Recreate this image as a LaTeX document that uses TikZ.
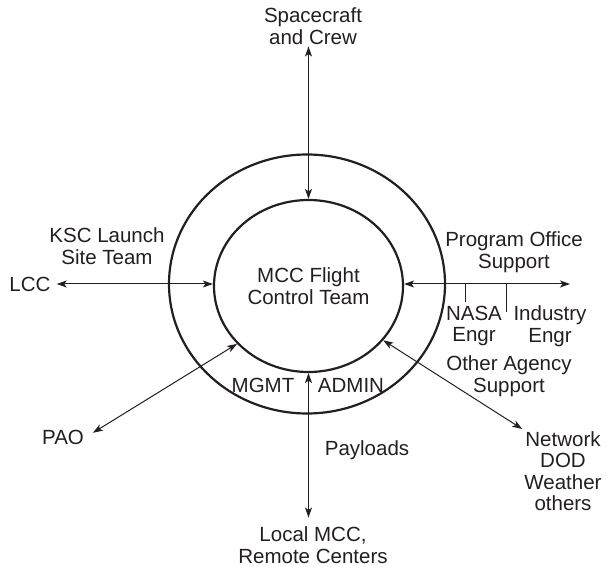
\documentclass[tikz,border=0pt]{standalone}
\usepackage{fontspec}
\setmainfont{Liberation Sans}
\usepackage{xcolor}
\usepackage{tikz}
\usetikzlibrary{arrows.meta,shapes.geometric}
\definecolor{ink}{HTML}{231F20}
\tikzset{
  lbl/.style={align=center, text=ink, font=\fontsize{20.5}{21.5}\selectfont, inner sep=2pt},
  flow/.style={{Stealth[length=10pt,width=7pt,inset=2.5pt]}-{Stealth[length=10pt,width=7pt,inset=2.5pt]},
               line width=1pt, ink},
  branch/.style={line width=1pt, ink},
  ring/.style={ellipse, draw=ink, line width=2.2pt, inner sep=0pt},
}

\begin{document}
\begin{tikzpicture}[x=1pt,y=-1pt]
  \useasboundingbox (0,0) rectangle (606,567);
  \node[ring, minimum width=276pt, minimum height=259pt] (site) at (307,284){};
  \node[lbl, ring, minimum width=189pt, minimum height=172pt] (mcc) at (308.5,286){MCC Flight\\Control Team};
  \node[lbl] (craft) at (313,26){Spacecraft\\and Crew};
  \node[lbl] (ksc) at (107,246){KSC Launch\\Site Team};
  \node[lbl] (lcc) at (30,284){LCC};
  \node[lbl] (prog) at (514,252){Program Office\\Support};
  \node[lbl] (nasa) at (474,326){NASA\\Engr};
  \node[lbl] (indu) at (550,326){Industry\\Engr};
  \node[lbl] (other) at (509,376){Other Agency\\Support};
  \node[lbl] (network) at (563,471){Network\\DOD\\Weather\\others};
  \node[lbl] (pao) at (63,437){PAO};
  \node[lbl] (mgmt) at (263,385){MGMT};
  \node[lbl] (admin) at (351,385){ADMIN};
  \node[lbl] (payl) at (367,450){Payloads};
  \node[lbl] (local) at (313,545){Local MCC,\\Remote Centers};
  \coordinate (poend) at (570,284);
  \coordinate (t1) at (465,284);
  \coordinate (t2) at (506,284);
  \draw[flow] (craft.south -| mcc.north) -- (mcc.north);
  \draw[flow, shorten <=4pt] (lcc.east) -- (lcc.east -| mcc.west);
  \draw[flow] (poend -| mcc.east) -- (poend);
  \draw[branch] (t1) -- ++(0,18);
  \draw[branch] (t2) -- ++(0,28);
  \draw[flow, shorten <=8pt] (pao.east) -- (mcc.219);
  \draw[flow] (mcc.-36) -- (network.north west);
  \draw[flow, shorten >=7pt] (mcc.south) -- (mcc.south |- local.north);
\end{tikzpicture}
\end{document}
